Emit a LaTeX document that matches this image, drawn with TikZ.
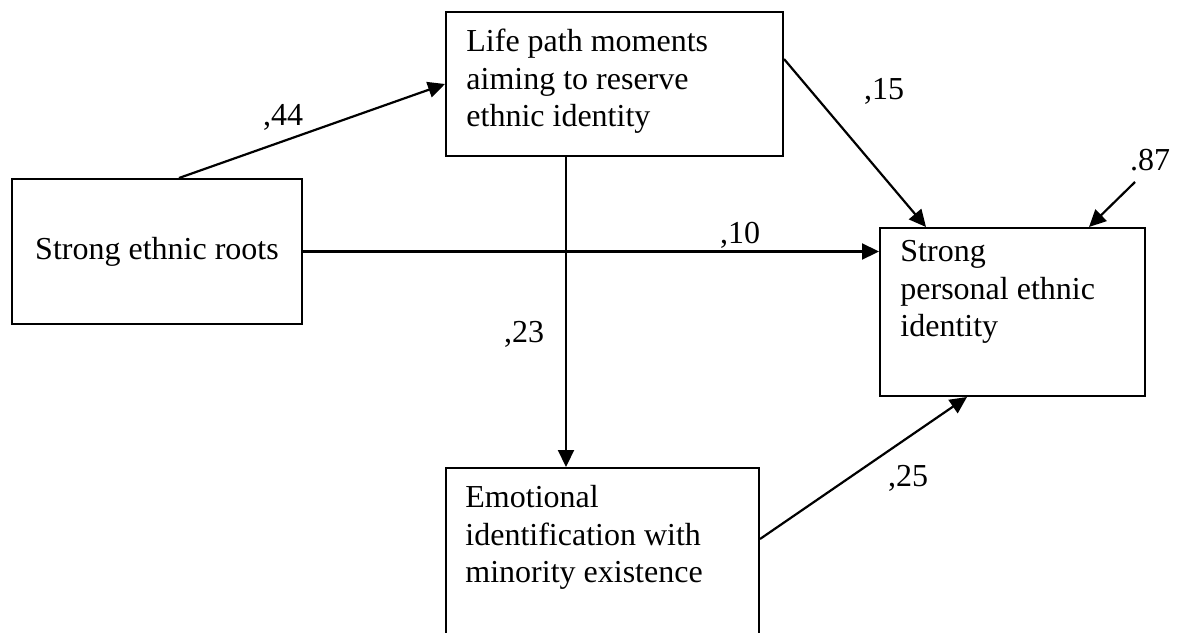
\documentclass[tikz,border=0pt]{standalone}
\usepackage{fontspec}
\setmainfont{Liberation Serif}
\usetikzlibrary{arrows.meta,calc}

\begin{document}
\begin{tikzpicture}[x=0.5pt,y=-0.5pt,>={Triangle[length=8.5pt,width=8pt]},
  every node/.style={font=\fontsize{16}{18.75}\selectfont},
  box/.style={draw,line width=1pt,inner sep=0pt},
  txt/.style={align=left,anchor=north west,inner sep=0pt},
  path/.style={->,line width=1.1pt}]
\useasboundingbox (0,0) rectangle (1183,632);

% Boxes
\node[box,minimum width=145pt,minimum height=72.5pt] (roots) at (157,251.5) {Strong ethnic roots};
\node[box,minimum width=168.5pt,minimum height=72pt,
  label={[txt,xshift=10.5pt,yshift=-9pt]north west:Life path moments\\aiming to reserve\\ethnic identity}] (life) at (614.5,84) {};
% bottom edge runs off the page
\node[box,minimum width=156.5pt,minimum height=91pt,
  label={[txt,xshift=10pt,yshift=-9pt]north west:Emotional\\identification with\\minority existence}] (emotion) at (602.5,559) {};
\node[box,minimum width=132.5pt,minimum height=84pt,
  label={[txt,xshift=10.5pt,yshift=-6.5pt]north west:Strong\\personal ethnic\\identity}] (identity) at (1012.5,312) {};

% Paths
\coordinate (split) at ($(life.south west)+(121,0)$);
\coordinate (err) at (1135,182);
\draw[path] ($(roots.north west)+(168,0)$) -- (life.west);
\draw[path] (roots.east) -- (roots.east -| identity.west);
\draw[path] (split) -- (split |- emotion.north);
\draw[path] ($(life.north east)+(0,48)$) -- ($(identity.north west)+(47,0)$);
\draw[path] (err) -- ($(identity.north east)+(-57,0)$);
\draw[path] ($(emotion.east)+(0,-20)$) -- ($(identity.south west)+(88,0)$);

% Weights
\node (w44) at (283,117) {,44};
\node (w15) at (884,91) {,15};
\node (w10) at (740,235) {,10};
\node (w23) at (524,334) {,23};
\node (w25) at (908,478) {,25};
\node (w87) at (1150,160) {.87};
\end{tikzpicture}
\end{document}
